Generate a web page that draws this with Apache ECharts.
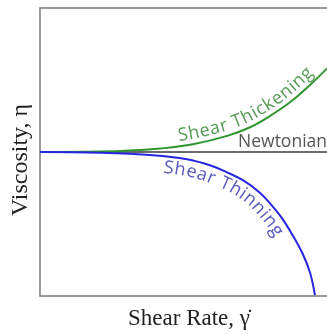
<!DOCTYPE html>
<html>
<head>
<meta charset="utf-8">
<script src="https://cdn.jsdelivr.net/npm/echarts@6/dist/echarts.min.js"></script>
<style>
html,body{margin:0;padding:0;background:#fff;}
#chart{width:327px;height:335px;}
</style>
</head>
<body>
<div id="chart"></div>
<script>
// values (shear rate 0..1, viscosity -1..1, newtonian = 0)
var thickX = [0, 0.209, 0.314, 0.418, 0.533, 0.652, 0.732, 0.801, 0.871, 0.941, 1.0];
var thickY = [0, 0.003, 0.010, 0.024, 0.054, 0.112, 0.172, 0.25, 0.345, 0.466, 0.581];
var thinX = [0, 0.209, 0.394, 0.512, 0.592, 0.65, 0.707, 0.767, 0.808, 0.843, 0.882, 0.916, 0.941, 0.958];
var thinY = [0, -0.005, -0.022, -0.05, -0.092, -0.14, -0.196, -0.284, -0.372, -0.459, -0.584, -0.71, -0.838, -0.995];
var newtX = [0, 1];
var newtY = [0, 0];

function pairs(xs, ys){
    var out = [];
    for(var i = 0; i < xs.length; i++){
        out.push([xs[i], ys[i]]);
    }
    return out;
}

var chart = echarts.init(document.getElementById('chart'));

var axisLine = {show: true, onZero: false, lineStyle: {color: '#7a7a7a', width: 1.5}};

var option = {
    animation: false,
    grid: {left: 40, right: 0, top: 8, bottom: 32},
    xAxis: [{
        type: 'value', min: 0, max: 1, position: 'bottom',
        axisLine: axisLine, axisTick: {show: false}, axisLabel: {show: false}, splitLine: {show: false},
        name: 'Shear Rate, \u03B3\u0307', nameLocation: 'middle', nameGap: 11,
        nameTextStyle: {fontFamily: 'Liberation Serif', fontSize: 23, color: '#222', padding: [0, 0, 0, 11]}
    }, {
        type: 'value', min: 0, max: 1, position: 'top',
        axisLine: axisLine, axisTick: {show: false}, axisLabel: {show: false}, splitLine: {show: false}
    }],
    yAxis: {
        type: 'value', min: -1, max: 1,
        axisLine: axisLine, axisTick: {show: false}, axisLabel: {show: false}, splitLine: {show: false},
        name: 'Viscosity, \u03B7', nameLocation: 'middle', nameRotate: 90, nameGap: 7,
        nameTextStyle: {fontFamily: 'Liberation Serif', fontSize: 24, color: '#222', padding: [0, 16, 0, 0]}
    },
    series: [{
        name: 'Newtonian', type: 'line', data: pairs(newtX, newtY), symbol: 'none',
        lineStyle: {color: '#3a3a3a', width: 1.5}
    }, {
        name: 'Shear Thickening', type: 'line', data: pairs(thickX, thickY), symbol: 'none',
        smooth: 0.4,
        lineStyle: {color: '#2e962e', width: 2}
    }, {
        name: 'Shear Thinning', type: 'line', data: pairs(thinX, thinY), symbol: 'none',
        smooth: 0.4,
        lineStyle: {color: '#2626e0', width: 2}
    }]
};
chart.setOption(option);

// text that follows a curve, one glyph at a time
var measure = document.createElement('canvas').getContext('2d');

function toPixels(xs, ys){
    var pts = [];
    for(var i = 0; i < xs.length; i++){
        pts.push(chart.convertToPixel({xAxisIndex: 0, yAxisIndex: 0}, [xs[i], ys[i]]));
    }
    // densify with catmull-rom so the glyphs turn smoothly
    var dense = [];
    for(var i = 0; i < pts.length - 1; i++){
        var p0 = pts[Math.max(i - 1, 0)], p1 = pts[i], p2 = pts[i + 1], p3 = pts[Math.min(i + 2, pts.length - 1)];
        for(var k = 0; k < 20; k++){
            var t = k / 20, t2 = t * t, t3 = t2 * t;
            dense.push([
                0.5 * (2 * p1[0] + (-p0[0] + p2[0]) * t + (2 * p0[0] - 5 * p1[0] + 4 * p2[0] - p3[0]) * t2 + (-p0[0] + 3 * p1[0] - 3 * p2[0] + p3[0]) * t3),
                0.5 * (2 * p1[1] + (-p0[1] + p2[1]) * t + (2 * p0[1] - 5 * p1[1] + 4 * p2[1] - p3[1]) * t2 + (-p0[1] + 3 * p1[1] - 3 * p2[1] + p3[1]) * t3)
            ]);
        }
    }
    dense.push(pts[pts.length - 1]);
    return dense;
}

function offsetPath(pts, d, side){
    var out = [];
    for(var i = 0; i < pts.length; i++){
        var a = pts[Math.max(i - 1, 0)], b = pts[Math.min(i + 1, pts.length - 1)];
        var tx = b[0] - a[0], ty = b[1] - a[1], l = Math.sqrt(tx * tx + ty * ty) || 1;
        tx /= l; ty /= l;
        var nx = side > 0 ? ty : -ty, ny = side > 0 ? -tx : tx;
        out.push([pts[i][0] + nx * d, pts[i][1] + ny * d]);
    }
    return out;
}

function curveText(xs, ys, text, startPx, d, side, spacing, font, color){
    var pts = offsetPath(toPixels(xs, ys), d, side);
    var cum = [0];
    for(var i = 1; i < pts.length; i++){
        cum.push(cum[i - 1] + Math.hypot(pts[i][0] - pts[i - 1][0], pts[i][1] - pts[i - 1][1]));
    }
    function at(s){
        for(var i = 1; i < pts.length; i++){
            if(cum[i] >= s){
                var f = (s - cum[i - 1]) / ((cum[i] - cum[i - 1]) || 1);
                return [pts[i - 1][0] + (pts[i][0] - pts[i - 1][0]) * f, pts[i - 1][1] + (pts[i][1] - pts[i - 1][1]) * f];
            }
        }
        return pts[pts.length - 1];
    }
    var s = 0;
    for(var i = 1; i < pts.length; i++){
        if(pts[i][0] >= startPx){ s = cum[i]; break; }
    }
    measure.font = font;
    var els = [];
    for(var c = 0; c < text.length; c++){
        var ch = text[c];
        var w = measure.measureText(ch).width;
        var mid = s + w / 2;
        var p = at(mid), p1 = at(mid - 5), p2 = at(mid + 5);
        els.push({
            type: 'text', x: p[0], y: p[1], silent: true,
            rotation: Math.atan2(-(p2[1] - p1[1]), p2[0] - p1[0]),
            style: {text: ch, font: font, fill: color, align: 'center', verticalAlign: 'middle'}
        });
        s += w + spacing;
    }
    return els;
}

var labelFont = '18px "Open Sans"';
var graphics = [];
graphics = graphics.concat(curveText(thickX, thickY, 'Shear Thickening', 178, 10.5, 1, 0.5, labelFont, '#569a56'));
graphics = graphics.concat(curveText(thinX, thinY, 'Shear Thinning', 163, 11.5, -1, 1.0, labelFont, '#5656c0'));

var newtEnd = chart.convertToPixel({xAxisIndex: 0, yAxisIndex: 0}, [newtX[1], newtY[1]]);
graphics.push({
    type: 'text', x: newtEnd[0], y: newtEnd[1] - 1, silent: true,
    style: {text: 'Newtonian', font: '17.5px "Open Sans"', fill: '#555', align: 'right', verticalAlign: 'bottom'}
});

chart.setOption({graphic: graphics});
</script>
</body>
</html>
